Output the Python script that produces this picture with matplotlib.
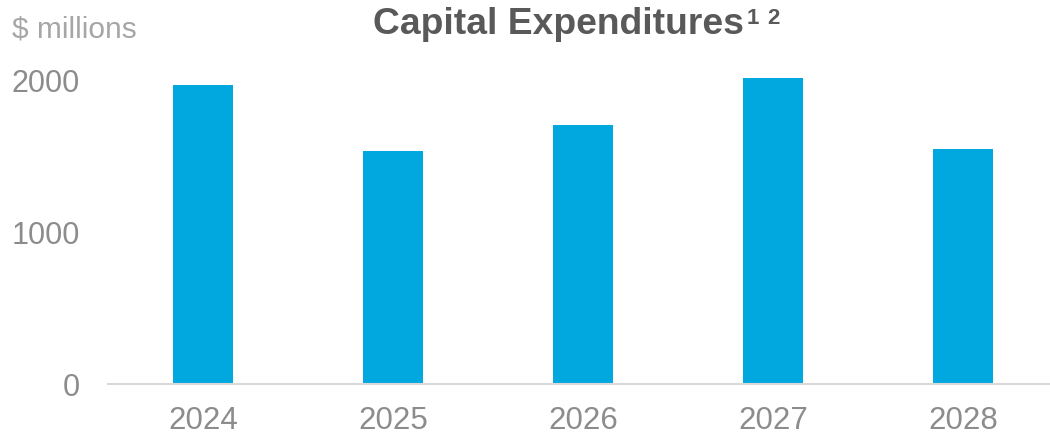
import matplotlib
matplotlib.use("Agg")
import matplotlib.pyplot as plt

years = ["2024", "2025", "2026", "2027", "2028"]
capex = [1967, 1535, 1704, 2015, 1544]
yticks = [0, 1000, 2000]
footnotes = ["1", "2"]

plt.rcParams['font.family'] = ['Liberation Sans', 'DejaVu Sans']

W, H = 1050, 438
fig = plt.figure(figsize=(W / 100, H / 100), dpi=100)
ax_left = 108 / W
ax_w = 942 / W
ax_bottom = 54 / H
ax_h = 319.2 / H
ax = fig.add_axes([ax_left, ax_bottom, ax_w, ax_h])

x = list(range(len(years)))
ax.bar(x, capex, width=0.316, color="#00A8DF", zorder=2)
ax.set_xlim(-0.5, -0.5 + 942 / 190)
ax.set_ylim(0, 2100)
ax.set_yticks(yticks)
ax.set_yticklabels([str(v) for v in yticks])
ax.set_xticks(x)
ax.set_xticklabels(years)
ax.tick_params(axis='y', length=0, pad=20, labelsize=22, labelcolor="#8C8C8C")
ax.tick_params(axis='x', length=0, pad=16, labelsize=22.5, labelcolor="#8C8C8C")
for s in ["top", "right", "left"]:
    ax.spines[s].set_visible(False)
ax.spines["bottom"].set_color("#D9D9D9")
ax.spines["bottom"].set_linewidth(1.5)

fig.text(12 / W, 1 - 38 / H, "$ millions", fontsize=21.5, color="#A6A6A6",
         ha="left", va="baseline")
fig.text(373 / W, 1 - 34 / H, "Capital Expenditures", fontsize=26.8,
         fontweight="bold", color="#595959", ha="left", va="baseline")
for fn, px in zip(footnotes, [747, 767]):
    fig.text(px / W, 1 - 24 / H, fn, fontsize=16, fontweight="bold",
             color="#595959", ha="left", va="baseline")

fig.savefig("out.png", dpi=100)
